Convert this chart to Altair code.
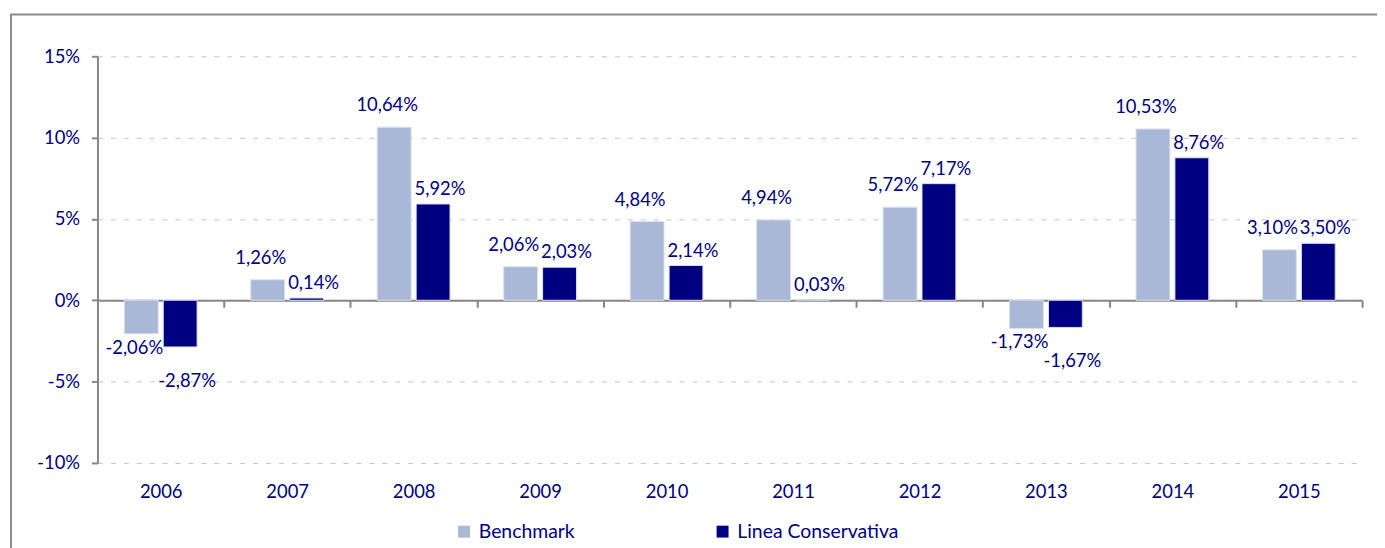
import altair as alt
import pandas as pd

years = ["2006", "2007", "2008", "2009", "2010", "2011", "2012", "2013", "2014", "2015"]
benchmark = [-2.06, 1.26, 10.64, 2.06, 4.84, 4.94, 5.72, -1.73, 10.53, 3.10]
conservativa = [-2.87, 0.14, 5.92, 2.03, 2.14, 0.03, 7.17, -1.67, 8.76, 3.50]
series_names = ["Benchmark", "Linea Conservativa"]
series_colors = ["#A9B8D6", "#000080"]
y_ticks = [-10, -5, 0, 5, 10, 15]

rows = []
for name, vals in zip(series_names, [benchmark, conservativa]):
    for yr, v in zip(years, vals):
        rows.append({"year": yr, "serie": name, "value": v})
df = pd.DataFrame(rows)

TXT = "#000080"
GRAY = "#868686"
W, H = 1272, 409
FS = 18.5

x_enc = alt.X("year:N", sort=years, title=None,
              scale=alt.Scale(paddingInner=0, paddingOuter=0),
              axis=alt.Axis(orient="bottom", offset=-H * 10 / 25, tickBand="extent",
                            tickSize=7, tickColor=GRAY, tickWidth=2,
                            domainColor=GRAY, domainWidth=2,
                            labelPadding=176, labelAngle=0, labelFontSize=FS,
                            labelColor=TXT, grid=False))
xo_enc = alt.XOffset("serie:N", sort=series_names,
                     scale=alt.Scale(paddingInner=0.13, paddingOuter=0.69))
y_enc = alt.Y("value:Q", title=None,
              scale=alt.Scale(domain=[-10, 15], nice=False, zero=False),
              axis=alt.Axis(values=y_ticks, labelExpr="datum.value + '%'",
                            tickSize=6, tickColor=GRAY, tickWidth=2,
                            domainColor=GRAY, domainWidth=2,
                            labelPadding=12, labelFontSize=FS, labelColor=TXT,
                            grid=True, gridColor="#C4C4C4", gridDash=[5, 8], gridWidth=1))
color_enc = alt.Color("serie:N", sort=series_names,
                      scale=alt.Scale(domain=series_names, range=series_colors),
                      legend=alt.Legend(title=None, orient="none", direction="horizontal",
                                        legendX=359, legendY=468, symbolType="square",
                                        symbolSize=144, symbolStrokeWidth=0,
                                        labelFontSize=19.5, labelColor=TXT, labelOffset=5,
                                        labelLimit=400, columnPadding=138, padding=0))

base = alt.Chart(df)

bars = base.mark_bar(stroke="#D9E0EE", strokeWidth=1).encode(
    x=x_enc, xOffset=xo_enc, y=y_enc, color=color_enc
)

label_expr = ("(datum.value < 0 ? '-' : '') + "
              "replace(format(abs(datum.value), '.2f'), '.', ',') + '%'")


def labels(serie, positive, dx, dy):
    cond = "datum.value >= 0" if positive else "datum.value < 0"
    return base.transform_filter(
        f"datum.serie == '{serie}' && {cond}"
    ).transform_calculate(lab=label_expr).mark_text(
        fontSize=FS, color=TXT, baseline="middle", align="center",
        dx=dx, dy=dy
    ).encode(
        x=alt.X("year:N", sort=years),
        xOffset=alt.XOffset("serie:N", sort=series_names),
        y=alt.Y("value:Q"),
        text="lab:N",
    )


frame = alt.Chart(alt.Data(values=[{"a": 1}])).mark_rect(
    fill="transparent", stroke="#8C8C8C", strokeWidth=2
).encode(
    x=alt.value(-87), x2=alt.value(1400), y=alt.value(-42), y2=alt.value(600)
)

chart = alt.layer(
    frame,
    bars,
    labels("Benchmark", True, -7, -22),
    labels("Benchmark", False, -7, 14),
    labels("Linea Conservativa", True, 7, -15),
    labels("Linea Conservativa", False, 7, 34),
).properties(
    width=W, height=H,
    autosize=alt.AutoSizeParams(type="none"),
    padding={"left": 90, "top": 47, "right": 15, "bottom": 84},
).configure(font="Lato").configure_view(strokeWidth=0)

chart.save("out.html", embed_options={"renderer": "svg", "actions": False})
